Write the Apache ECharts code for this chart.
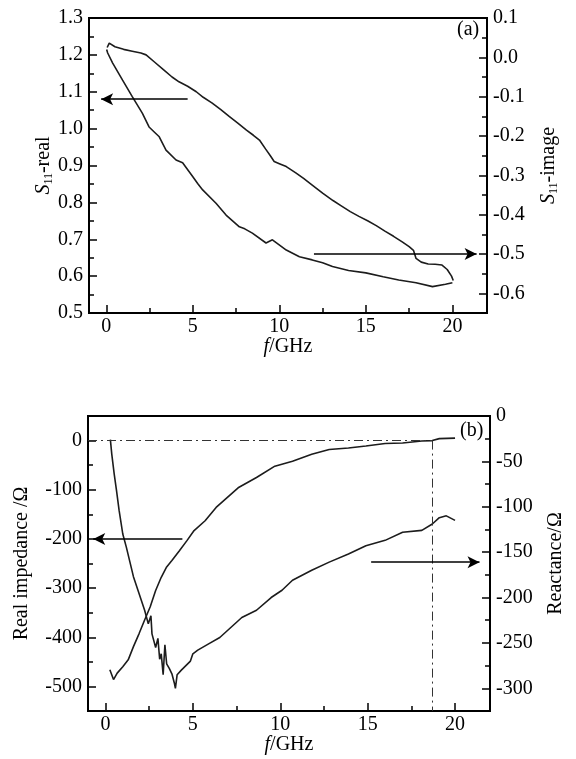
<!DOCTYPE html>
<html>
<head>
<meta charset="utf-8">
<script src="https://cdn.jsdelivr.net/npm/echarts@6/dist/echarts.min.js"></script>
<style>html,body{margin:0;padding:0;background:#fff}#c{width:576px;height:759px}</style>
</head>
<body>
<div id="c"></div>
<script>
// ---------- Panel (a): S11 real / imaginary ----------
const aRealFreq = [0.05,0.17,0.5,1.0,1.5,2.0,2.3,2.8,3.3,3.8,4.2,4.7,5.2,5.6,6.1,6.6,7.1,7.6,8.1,8.5,8.85,9.2,9.5,9.7,10.0,10.4,10.95,11.4,11.9,12.5,13.1,13.6,14.1,14.6,15.1,15.6,16.1,16.6,17.1,17.5,17.75,17.9,18.2,18.6,19.0,19.4,19.7,19.95,20.05];
const aRealVal  = [1.220,1.232,1.222,1.215,1.210,1.205,1.200,1.180,1.160,1.140,1.127,1.115,1.100,1.085,1.070,1.052,1.033,1.015,0.996,0.982,0.969,0.945,0.925,0.911,0.905,0.897,0.880,0.865,0.847,0.825,0.805,0.790,0.775,0.762,0.750,0.737,0.722,0.708,0.693,0.680,0.670,0.648,0.638,0.633,0.632,0.630,0.618,0.600,0.588];
const aImagFreq = [0.02,0.08,0.36,0.94,1.5,2.08,2.47,2.8,3.06,3.45,4.03,4.41,4.99,5.3,5.57,6.34,6.92,7.69,8.0,8.44,9.23,9.6,10.4,11.16,11.9,12.5,13.07,14.0,15.0,16.0,16.9,17.9,18.85,19.6,20.0];
const aImagVal  = [0.020,0.011,-0.014,-0.058,-0.100,-0.142,-0.177,-0.191,-0.202,-0.236,-0.261,-0.268,-0.303,-0.322,-0.337,-0.371,-0.401,-0.431,-0.436,-0.447,-0.472,-0.464,-0.490,-0.507,-0.515,-0.522,-0.532,-0.542,-0.548,-0.558,-0.566,-0.573,-0.583,-0.577,-0.573];
const aXTicks = [0,5,10,15,20];
const aLeftTicks = [0.5,0.6,0.7,0.8,0.9,1.0,1.1,1.2,1.3];
const aRightTicks = [-0.6,-0.5,-0.4,-0.3,-0.2,-0.1,0.0,0.1];

// ---------- Panel (b): impedance ----------
const bRealFreq = [0.25,0.46,0.67,0.99,1.3,1.6,1.93,2.24,2.56,2.87,3.19,3.5,3.8,4.23,4.65,5.07,5.7,6.33,6.96,7.59,8.64,9.69,10.7,11.8,12.8,13.9,14.9,16.0,17.0,18.1,18.7,19.1,20.0];
const bRealVal  = [-466,-486,-473,-460,-446,-419,-392,-365,-338,-305,-278,-257,-244,-224,-204,-183,-163,-136,-116,-96,-75,-52,-42,-28,-18,-15,-11,-6,-5,-1,0,4,5];
const bReactFreq = [0.28,0.36,0.5,0.63,0.78,0.99,1.2,1.4,1.6,1.93,2.24,2.45,2.6,2.66,2.87,3.0,3.1,3.19,3.3,3.4,3.5,3.65,3.8,3.95,4.0,4.1,4.34,4.6,4.86,5.0,5.28,5.9,6.54,7.17,7.8,8.64,9.48,10.1,10.7,11.8,12.8,13.9,14.9,16.0,17.0,18.1,18.7,19.1,19.5,20.0];
const bReactVal  = [-26,-42,-64,-82,-104,-130,-145,-161,-177,-196,-214,-229,-220,-240,-255,-245,-268,-262,-285,-252,-273,-278,-284,-295,-300,-285,-280,-275,-270,-262,-258,-251,-244,-233,-222,-214,-200,-192,-181,-170,-161,-152,-143,-137,-128,-126,-119,-112,-110,-115];
const bXTicks = [0,5,10,15,20];
const bLeftTicks = [-500,-400,-300,-200,-100,0];
const bRightTicks = [-300,-250,-200,-150,-100,-50,0];
const zeroCrossFreq = 18.7;

const zip = (xs, ys) => xs.map((x, i) => [x, ys[i]]);
const FONT = 'Liberation Serif';
const BLACK = '#000';
const lbl = (extra) => Object.assign({fontFamily: FONT, fontSize: 20, color: BLACK}, extra || {});

const RECT_A = {left: 89, right: 89, top: 18, height: 295};
const RECT_B = {left: 88, right: 86, top: 416, height: 295};
const W = 576;
const widthOf = g => W - g.left - g.right;

function mainAxis(gridIndex, pos, min, max, ticks, fmt, name, nameGap, rich) {
  return {
    type: 'value', gridIndex, position: pos, min, max,
    splitLine: {show: false},
    axisLine: {show: true, onZero: false, lineStyle: {color: BLACK, width: 2}},
    axisTick: {show: false},
    axisLabel: lbl({show: true, customValues: ticks, formatter: fmt, margin: (pos === 'bottom' ? 4 : 6)}),
    name, nameLocation: 'middle', nameGap, nameMoveOverlap: false,
    nameRotate: (pos === 'bottom' ? 0 : 90),
    nameTextStyle: lbl({rich})
  };
}

// ----- tick overlays: each in its own grid over the same rectangle -----
const isMult = (v, s) => Math.abs(v / s - Math.round(v / s)) < 1e-6;
const opposite = {bottom: 'top', top: 'bottom', left: 'right', right: 'left'};
function cats(min, max, step) {
  const n = Math.round((max - min) / step), c = [];
  for (let i = 0; i <= n; i++) c.push(String(+(min + i * step).toFixed(6)));
  return c;
}
// mode 'inside': natural edge + inside:true ; mode 'shift': opposite edge, shifted onto the frame edge
function tickAxis(gridIndex, edge, span, min, max, step, majorStep, major, mode) {
  const a = {
    type: 'category', gridIndex, data: cats(min, max, step), boundaryGap: false,
    axisLine: {show: true, lineStyle: {color: BLACK, width: 2}},
    axisLabel: {show: false},
    splitLine: {show: false},
    axisTick: {
      show: true, length: major ? 8 : 5,
      lineStyle: {color: BLACK, width: 1.5},
      interval: (idx, val) => {
        const v = parseFloat(val);
        return major ? isMult(v, majorStep) : (isMult(v, majorStep / 2) && !isMult(v, majorStep));
      }
    }
  };
  if (mode === 'inside') { a.position = edge; a.axisTick.inside = true; }
  else { a.position = opposite[edge]; a.offset = -span; }
  return a;
}
function hiddenAxis(gridIndex, dir) {
  return {type: 'category', gridIndex, data: ['0', '1'], boundaryGap: false, show: false,
    position: dir === 'x' ? 'bottom' : 'left'};
}

const richS = {
  i: {fontFamily: FONT, fontSize: 20, fontStyle: 'italic', color: BLACK},
  s: {fontFamily: FONT, fontSize: 12, color: BLACK, verticalAlign: 'bottom', padding: [10, 0, 0, 0]},
  n: {fontFamily: FONT, fontSize: 20, color: BLACK}
};
const f1 = v => v.toFixed(1);
const f0 = v => String(Math.round(v));

const lineStyleData = {color: '#1c1c1c', width: 1.6};
const arrowStyle = {color: BLACK, width: 1.6, type: 'solid'};
const dashDot = {color: '#333', width: 1, type: [9, 4, 2, 4]};

const grids = [], xAxes = [], yAxes = [], binds = [];
// main grids 0,1
grids.push(Object.assign({show: true, borderColor: BLACK, borderWidth: 2, backgroundColor: 'transparent'}, RECT_A));
grids.push(Object.assign({show: true, borderColor: BLACK, borderWidth: 2, backgroundColor: 'transparent'}, RECT_B));
xAxes.push(mainAxis(0, 'bottom', -1, 22, aXTicks, f0, '{i|f}{n|/GHz}', 24, richS));   // x0
xAxes.push(mainAxis(1, 'bottom', -1, 22, bXTicks, f0, '{i|f}{n|/GHz}', 24, richS));   // x1
yAxes.push(mainAxis(0, 'left', 0.5, 1.3, aLeftTicks, f1, '{i|S}{s|11}{n|-real}', 34, richS));     // y0
yAxes.push(mainAxis(0, 'right', -0.65, 0.1, aRightTicks, f1, '{i|S}{s|11}{n|-image}', 51, richS)); // y1
yAxes.push(mainAxis(1, 'left', -550, 50, bLeftTicks, f0, 'Real impedance /Ω', 56, richS));        // y2
yAxes.push(mainAxis(1, 'right', -325, 0, bRightTicks, f0, 'Reactance/Ω', 56, richS));             // y3

function addOverlay(rect, xSpec, ySpec, mode) {
  const gi = grids.length;
  grids.push(Object.assign({}, rect));
  const xi = xAxes.length, yi = yAxes.length;
  xAxes.push(xSpec ? tickAxis(gi, 'bottom', rect.height, xSpec[0], xSpec[1], xSpec[2], xSpec[3], xSpec[4], mode) : hiddenAxis(gi, 'x'));
  yAxes.push(ySpec ? tickAxis(gi, ySpec[5], widthOf(rect), ySpec[0], ySpec[1], ySpec[2], ySpec[3], ySpec[4], mode) : hiddenAxis(gi, 'y'));
  binds.push({type: 'line', xAxisIndex: xi, yAxisIndex: yi, data: [], silent: true, showSymbol: false});
}
// panel (a): inside mode
addOverlay(RECT_A, [-1, 22, 0.5, 5, true], [0.5, 1.3, 0.05, 0.1, true, 'left'], 'inside');
addOverlay(RECT_A, [-1, 22, 0.5, 5, false], [0.5, 1.3, 0.05, 0.1, false, 'left'], 'inside');
addOverlay(RECT_A, null, [-0.65, 0.1, 0.05, 0.1, true, 'right'], 'inside');
addOverlay(RECT_A, null, [-0.65, 0.1, 0.05, 0.1, false, 'right'], 'inside');
// panel (b): shift mode
addOverlay(RECT_B, [-1, 22, 0.5, 5, true], [-550, 50, 50, 100, true, 'left'], 'shift');
addOverlay(RECT_B, [-1, 22, 0.5, 5, false], [-550, 50, 50, 100, false, 'left'], 'shift');
addOverlay(RECT_B, null, [-325, 0, 25, 50, true, 'right'], 'shift');
addOverlay(RECT_B, null, [-325, 0, 25, 50, false, 'right'], 'shift');

const option = {
  backgroundColor: '#fff',
  animation: false,
  grid: grids,
  xAxis: xAxes,
  yAxis: yAxes,
  series: [
    {
      name: 'S11-real', type: 'line', xAxisIndex: 0, yAxisIndex: 0, showSymbol: false,
      data: zip(aRealFreq, aRealVal), lineStyle: lineStyleData,
      markLine: {silent: true, symbol: ['none', 'arrow'], symbolSize: [9, 12], label: {show: false},
        lineStyle: arrowStyle, data: [[{coord: [4.7, 1.08]}, {coord: [-0.3, 1.08]}]]}
    },
    {
      name: 'S11-image', type: 'line', xAxisIndex: 0, yAxisIndex: 1, showSymbol: false,
      data: zip(aImagFreq, aImagVal), lineStyle: lineStyleData,
      markLine: {silent: true, symbol: ['none', 'arrow'], symbolSize: [9, 12], label: {show: false},
        lineStyle: arrowStyle, data: [[{coord: [12.0, -0.5]}, {coord: [21.4, -0.5]}]]}
    },
    {
      name: 'Real impedance', type: 'line', xAxisIndex: 1, yAxisIndex: 2, showSymbol: false,
      data: zip(bRealFreq, bRealVal), lineStyle: lineStyleData,
      markLine: {silent: true, symbol: ['none', 'none'], label: {show: false}, lineStyle: dashDot,
        data: [
          [{coord: [-1, 0]}, {coord: [zeroCrossFreq, 0]}],
          [{coord: [zeroCrossFreq, 0]}, {coord: [zeroCrossFreq, -550]}],
          [{coord: [4.4, -200], symbol: 'none', lineStyle: arrowStyle}, {coord: [-0.7, -200], symbol: 'arrow', symbolSize: [9, 12]}]
        ]}
    },
    {
      name: 'Reactance', type: 'line', xAxisIndex: 1, yAxisIndex: 3, showSymbol: false,
      data: zip(bReactFreq, bReactVal), lineStyle: lineStyleData,
      markLine: {silent: true, symbol: ['none', 'arrow'], symbolSize: [9, 12], label: {show: false},
        lineStyle: arrowStyle, data: [[{coord: [15.2, -161]}, {coord: [21.4, -161]}]]}
    }
  ].concat(binds),
  graphic: [
    {type: 'text', left: 457, top: 20, style: {text: '(a)', fontFamily: FONT, fontSize: 20, fill: BLACK}},
    {type: 'text', left: 460, top: 421, style: {text: '(b)', fontFamily: FONT, fontSize: 20, fill: BLACK}}
  ]
};
const chart = echarts.init(document.getElementById('c'), null, {renderer: 'canvas'});
chart.setOption(option);
</script>
</body>
</html>
